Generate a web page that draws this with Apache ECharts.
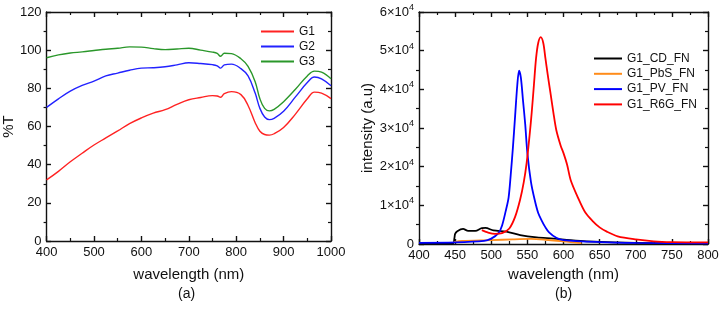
<!DOCTYPE html>
<html>
<head>
<meta charset="utf-8">
<script src="https://cdn.jsdelivr.net/npm/echarts@6/dist/echarts.min.js"></script>
<style>
  html, body { margin: 0; padding: 0; background: #fff; }
  #chart { width: 723px; height: 309px; }
</style>
</head>
<body>
<div id="chart"></div>
<script>
// panel (a): transmittance
const waveA = [400, 425, 450, 475, 500, 525, 550, 575, 600, 625, 650, 675, 700, 725, 750, 760, 767, 775, 790, 810, 825, 840, 850, 860, 870, 880, 900, 925, 950, 965, 980, 1000];
const tG1 = [32.0, 36.5, 41.5, 46.0, 50.3, 54.0, 57.7, 61.5, 64.5, 67.0, 68.8, 71.6, 74.0, 75.2, 76.2, 76.0, 75.3, 77.2, 78.3, 76.7, 71.0, 62.0, 57.5, 55.8, 55.5, 56.2, 59.5, 66.5, 74.5, 78.0, 77.5, 74.6];
const tG2 = [70.0, 74.5, 78.5, 81.5, 83.8, 86.5, 88.0, 89.5, 90.6, 90.8, 91.3, 92.3, 93.4, 93.0, 92.4, 91.8, 90.6, 92.3, 92.7, 90.3, 86.5, 77.5, 69.5, 65.0, 63.6, 64.3, 68.0, 75.5, 83.0, 85.9, 85.0, 81.4];
const tG3 = [96.0, 97.5, 98.5, 99.1, 99.8, 100.5, 101.0, 101.7, 101.6, 100.8, 100.3, 100.6, 101.0, 100.0, 99.0, 98.3, 96.8, 98.4, 98.2, 95.5, 91.5, 83.5, 74.5, 69.5, 68.2, 69.0, 73.0, 79.5, 86.5, 89.0, 88.5, 85.0];

// panel (b): emission
const waveCD = [400, 447, 449, 450, 453, 461, 468, 478, 487, 492, 503, 521, 540, 563, 586, 609, 632, 700, 800];
const valCD = [200, 200, 1500, 2600, 3300, 3900, 3400, 3400, 4100, 4150, 3500, 3200, 2300, 1700, 1400, 1000, 700, 300, 200];
const wavePbS = [448, 460, 500, 530, 555, 575, 600, 625];
const valPbS = [500, 800, 1000, 1200, 1300, 1100, 700, 200];
const wavePV = [400, 450, 490, 500, 510, 515, 520, 524, 527, 530, 533, 536, 538.5, 541, 544, 547, 550, 555, 560, 565, 570, 575, 580, 590, 600, 650, 700, 800];
const valPV = [300, 400, 800, 1400, 2800, 4800, 8500, 12000, 18000, 25000, 33000, 41000, 44800, 43000, 37000, 31000, 23500, 16000, 11500, 8000, 6000, 4300, 3000, 1600, 1000, 500, 300, 200];
const waveR6G = [487, 495, 505, 515, 525, 533, 540, 545, 549, 553, 556, 559, 562, 565, 568.5, 572, 575, 578, 582, 586, 590, 596, 600, 605, 610, 620, 630, 640, 650, 660, 675, 700, 725, 750, 800];
const valR6G = [3600, 3000, 2600, 2800, 4000, 7000, 11500, 16000, 21000, 28000, 34000, 41000, 48000, 52000, 53500, 52000, 48000, 44000, 39000, 34000, 29500, 25500, 23500, 20500, 16500, 12000, 8200, 6000, 4300, 3200, 2000, 1200, 700, 500, 400];

const xTicksA = [400, 1000, 100];
const yTicksA = [0, 120, 20];
const xTicksB = [400, 800, 50];
const yTicksB = [0, 60000, 10000];

const pairs = (xs, ys) => xs.map((x, i) => [x, ys[i]]);

const font = 'Liberation Sans, Arial, sans-serif';
const black = '#111';

function axisBase(range, position, gridIndex, showLabel) {
  return {
    type: 'value',
    gridIndex: gridIndex,
    position: position,
    min: range[0], max: range[1], interval: range[2],
    axisLine: { show: true, onZero: false, lineStyle: { color: black, width: 1.4 } },
    axisTick: { show: true, inside: true, length: 5, lineStyle: { color: black, width: 1.4 } },
    minorTick: { show: true, splitNumber: 2, length: 3, lineStyle: { color: black, width: 1.2 } },
    splitLine: { show: false },
    axisLabel: { show: showLabel, color: black, fontFamily: font, fontSize: 13, margin: 5, formatter: v => String(v) }
  };
}

// left axis major ticks come out on the wrong side, so they are drawn
// by a right-side axis moved onto the left edge
function leftTicks(range, gridIndex, width) {
  const a = axisBase(range, 'right', gridIndex, false);
  a.offset = -width;
  a.axisLine = { show: false };
  a.axisTick.inside = false;
  a.minorTick = { show: false };
  return a;
}

const chart = echarts.init(document.getElementById('chart'));

const xA = axisBase(xTicksA, 'bottom', 0, true);
xA.name = 'wavelength (nm)';
xA.nameLocation = 'middle';
xA.nameGap = 26;
xA.nameTextStyle = { color: black, fontFamily: font, fontSize: 15 };

const yA = axisBase(yTicksA, 'left', 0, true);
yA.axisTick = { show: false };
yA.name = '%T';
yA.nameLocation = 'middle';
yA.nameGap = 27;
yA.nameTextStyle = { color: black, fontFamily: font, fontSize: 15 };

const xB = axisBase(xTicksB, 'bottom', 1, true);
xB.name = 'wavelength (nm)';
xB.nameLocation = 'middle';
xB.nameGap = 23;
xB.nameTextStyle = { color: black, fontFamily: font, fontSize: 15 };

const yB = axisBase(yTicksB, 'left', 1, true);
yB.axisTick = { show: false };
yB.name = 'intensity (a.u)';
yB.nameLocation = 'middle';
yB.nameGap = 44;
yB.nameTextStyle = { color: black, fontFamily: font, fontSize: 15 };
yB.axisLabel.formatter = function (v) {
  return v === 0 ? '0' : '{m|' + (v / 10000) + '×10}{s|4}';
};
yB.axisLabel.rich = {
  m: { fontFamily: font, fontSize: 13, color: black },
  s: { fontFamily: font, fontSize: 9, color: black, padding: [0, 0, 9, 0] }
};

const lineA = (name, data, color) => ({
  name: name, type: 'line', xAxisIndex: 0, yAxisIndex: 0,
  data: data, symbol: 'none', smooth: 0.4,
  lineStyle: { color: color, width: 1.4 }, itemStyle: { color: color }
});
const lineB = (name, data, color) => ({
  name: name, type: 'line', xAxisIndex: 2, yAxisIndex: 2,
  data: data, symbol: 'none', smooth: 0.3,
  lineStyle: { color: color, width: 1.8 }, itemStyle: { color: color }
});

const legendText = { color: black, fontFamily: font, fontSize: 12, lineHeight: 13 };

chart.setOption({
  animation: false,
  textStyle: { fontFamily: font },
  grid: [
    { left: 46, right: 392, top: 12, bottom: 68 },
    { left: 419, right: 15, top: 12, bottom: 65 }
  ],
  xAxis: [xA, axisBase(xTicksA, 'top', 0, false), xB, axisBase(xTicksB, 'top', 1, false)],
  yAxis: [
    yA, axisBase(yTicksA, 'right', 0, false),
    yB, axisBase(yTicksB, 'right', 1, false),
    leftTicks(yTicksA, 0, 285), leftTicks(yTicksB, 1, 289)
  ],
  legend: [
    {
      data: ['G1', 'G2', 'G3'], orient: 'vertical', left: 256, top: 20,
      icon: 'rect', itemWidth: 33, itemHeight: 2, itemGap: 2,
      textStyle: legendText
    },
    {
      data: ['G1_CD_FN', 'G1_PbS_FN', 'G1_PV_FN', 'G1_R6G_FN'], orient: 'vertical', left: 589, top: 47,
      icon: 'rect', itemWidth: 28, itemHeight: 2, itemGap: 2.3,
      textStyle: legendText
    }
  ],
  graphic: [
    { type: 'text', left: 178, top: 287, style: { text: '(a)', fontFamily: font, fontSize: 14, fill: black } },
    { type: 'text', left: 555, top: 287, style: { text: '(b)', fontFamily: font, fontSize: 14, fill: black } }
  ],
  series: [
    lineA('G1', pairs(waveA, tG1), '#ff2222'),
    lineA('G2', pairs(waveA, tG2), '#2222ff'),
    lineA('G3', pairs(waveA, tG3), '#2a972a'),
    lineB('G1_CD_FN', pairs(waveCD, valCD), '#000000'),
    lineB('G1_PbS_FN', pairs(wavePbS, valPbS), '#ff8c1a'),
    lineB('G1_PV_FN', pairs(wavePV, valPV), '#0000ff'),
    lineB('G1_R6G_FN', pairs(waveR6G, valR6G), '#ff0000')
  ]
});
</script>
</body>
</html>
